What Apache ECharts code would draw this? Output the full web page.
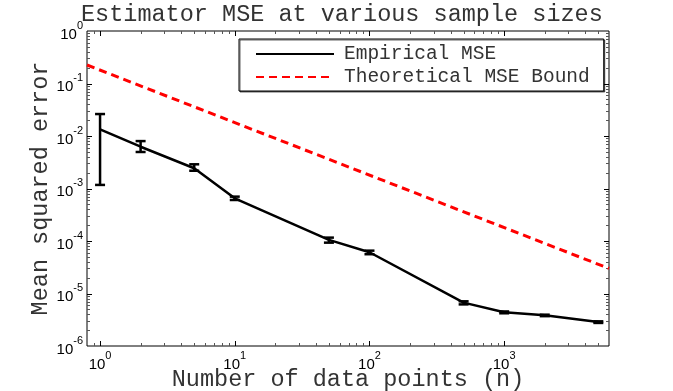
<!DOCTYPE html>
<html>
<head>
<meta charset="utf-8">
<script src="https://cdn.jsdelivr.net/npm/echarts@6/dist/echarts.min.js"></script>
<style>
  html, body { margin: 0; padding: 0; background: #fff; }
  #chart { width: 673px; height: 391px; }
</style>
</head>
<body>
<div id="chart"></div>
<script>
// data
const sampleSizes = [1, 2, 5, 10, 50, 100, 500, 1000, 2000, 5000];
const empiricalMse = [1.34e-2, 6.25e-3, 2.43e-3, 6.5e-4, 1.05e-4, 6.1e-5, 6.7e-6, 4.4e-6, 3.85e-6, 2.86e-6];
const errLow = [1.17e-3, 4.96e-3, 2.18e-3, 6.04e-4, 9.3e-5, 5.6e-5, 6.2e-6, 4.2e-6, 3.7e-6, 2.75e-6];
const errHigh = [2.62e-2, 8.0e-3, 2.89e-3, 7.0e-4, 1.16e-4, 6.55e-5, 7.1e-6, 4.55e-6, 3.95e-6, 2.95e-6];
const boundX = [0.8, 6000];
const boundY = [0.225, 3.0e-5];

const xMin = 0.8, xMax = 6000;
const yMin = 1e-6, yMax = 1;
const monoFont = '"Liberation Mono", "Courier New", monospace';
const sansFont = '"Liberation Sans", Arial, sans-serif';

// tick marks inside the box (major + minor), like the original
const xTicks = [];
const yTicks = [];
for (let k = -1; k <= 3; k++) {
  for (let m = 1; m <= 9; m++) {
    const v = m * Math.pow(10, k);
    if (v > xMin && v < xMax) xTicks.push([v, yMin, m === 1 ? 5 : 3]);
  }
}
for (let k = -6; k <= -1; k++) {
  for (let m = 1; m <= 9; m++) {
    const v = m * Math.pow(10, k);
    if (v > yMin && v < yMax) yTicks.push([xMin, v, m === 1 ? 5 : 3]);
  }
}

const px = v => Math.round(v) + 0.5;

const chart = echarts.init(document.getElementById('chart'));

const logLabel = function (value) {
  const e = Math.log10(value);
  if (Math.abs(e - Math.round(e)) > 1e-6) return '';
  return '{b|10}{s|' + Math.round(e) + '}';
};
const labelRich = {
  b: { fontSize: 15, fontFamily: sansFont, color: '#000', lineHeight: 22, verticalAlign: 'bottom' },
  s: { fontSize: 11, fontFamily: sansFont, color: '#000', lineHeight: 12, verticalAlign: 'top' }
};

const opciones = {
  animation: false,
  backgroundColor: '#fff',
  title: {
    text: 'Estimator MSE at various sample sizes',
    left: 81,
    top: 3,
    padding: 0,
    textStyle: { fontFamily: monoFont, fontSize: 23.5, fontWeight: 'normal', color: '#333' }
  },
  legend: {
    orient: 'vertical',
    left: 239,
    top: 39,
    padding: [5, 14, 4, 16],
    itemWidth: 78,
    itemHeight: 14,
    itemGap: 3,
    backgroundColor: '#fff',
    borderColor: '#000',
    borderWidth: 1,
    shadowColor: 'rgba(0,0,0,0.6)',
    shadowOffsetX: 1,
    shadowOffsetY: 1,
    itemStyle: { opacity: 0 },
    textStyle: { fontFamily: monoFont, fontSize: 19.5, color: '#333', padding: [0, 0, 0, 5] },
    data: ['Empirical MSE', 'Theoretical MSE Bound']
  },
  grid: {
    left: 87, right: 64, top: 31, bottom: 45,
    show: true, borderColor: '#000', borderWidth: 1,
    outerBoundsMode: 'none'
  },
  xAxis: {
    type: 'log',
    min: xMin,
    max: xMax,
    name: 'Number of data points (n)',
    nameLocation: 'middle',
    nameGap: 22,
    nameMoveOverlap: false,
    nameTextStyle: { fontFamily: monoFont, fontSize: 23.5, color: '#333' },
    axisLine: { show: false },
    axisTick: { show: false },
    splitLine: { show: false },
    axisLabel: { margin: 4, formatter: logLabel, rich: labelRich, showMinLabel: false, showMaxLabel: false }
  },
  yAxis: {
    type: 'log',
    min: yMin,
    max: yMax,
    name: 'Mean squared error',
    nameLocation: 'middle',
    nameGap: 34,
    nameMoveOverlap: false,
    nameTextStyle: { fontFamily: monoFont, fontSize: 23.5, color: '#333' },
    axisLine: { show: false },
    axisTick: { show: false },
    splitLine: { show: false },
    axisLabel: { margin: 4, formatter: logLabel, rich: labelRich }
  },
  series: [
    {
      name: 'Theoretical MSE Bound',
      type: 'line',
      data: boundX.map((x, i) => [x, boundY[i]]),
      symbol: 'none',
      lineStyle: { color: '#ff0000', width: 3, type: [8, 5] },
      itemStyle: { color: '#ff0000' },
      z: 3
    },
    {
      name: 'Empirical MSE',
      type: 'line',
      data: sampleSizes.map((x, i) => [x, empiricalMse[i]]),
      symbol: 'none',
      lineStyle: { color: '#000', width: 2.5 },
      itemStyle: { color: '#000' },
      z: 4
    },
    {
      name: 'errorbars',
      type: 'custom',
      data: sampleSizes.map((x, i) => [x, errLow[i], errHigh[i]]),
      encode: { x: 0, y: [1, 2] },
      z: 4,
      renderItem: function (params, api) {
        const lo = api.coord([api.value(0), api.value(1)]);
        const hi = api.coord([api.value(0), api.value(2)]);
        const st = { stroke: '#000', lineWidth: 2.5 };
        const half = 5;
        return {
          type: 'group',
          children: [
            { type: 'line', shape: { x1: lo[0], y1: lo[1], x2: hi[0], y2: hi[1] }, style: st },
            { type: 'line', shape: { x1: lo[0] - half, y1: lo[1], x2: lo[0] + half, y2: lo[1] }, style: st },
            { type: 'line', shape: { x1: hi[0] - half, y1: hi[1], x2: hi[0] + half, y2: hi[1] }, style: st }
          ]
        };
      }
    },
    {
      name: 'xticks',
      type: 'custom',
      data: xTicks,
      encode: { x: 0, y: 1 },
      silent: true,
      renderItem: function (params, api) {
        const v = api.value(0);
        const len = api.value(2);
        const b = api.coord([v, yMin]);
        const t = api.coord([v, yMax]);
        const st = { stroke: len > 3 ? '#000' : '#555', lineWidth: 1 };
        return {
          type: 'group',
          children: [
            { type: 'line', shape: { x1: px(b[0]), y1: b[1], x2: px(b[0]), y2: b[1] - len }, style: st },
            { type: 'line', shape: { x1: px(t[0]), y1: t[1], x2: px(t[0]), y2: t[1] + len }, style: st }
          ]
        };
      }
    },
    {
      name: 'yticks',
      type: 'custom',
      data: yTicks,
      encode: { x: 0, y: 1 },
      silent: true,
      renderItem: function (params, api) {
        const v = api.value(1);
        const len = api.value(2);
        const l = api.coord([xMin, v]);
        const r = api.coord([xMax, v]);
        const st = { stroke: len > 3 ? '#000' : '#555', lineWidth: 1 };
        return {
          type: 'group',
          children: [
            { type: 'line', shape: { x1: l[0], y1: px(l[1]), x2: l[0] + len, y2: px(l[1]) }, style: st },
            { type: 'line', shape: { x1: r[0], y1: px(r[1]), x2: r[0] - len, y2: px(r[1]) }, style: st }
          ]
        };
      }
    }
  ]
};

chart.setOption(opciones);
</script>
</body>
</html>
